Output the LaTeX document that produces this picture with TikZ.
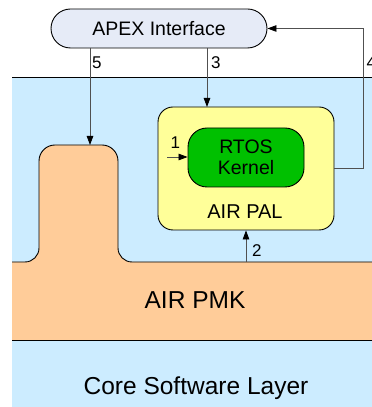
\documentclass[tikz,border=0pt]{standalone}
\usepackage{fontspec}
\setmainfont{Liberation Sans}
\usetikzlibrary{arrows.meta}
\definecolor{layerblue}{RGB}{204,236,255}
\definecolor{pmkpeach}{RGB}{255,204,153}
\definecolor{palyellow}{RGB}{255,255,153}
\definecolor{kernelgreen}{RGB}{0,192,0}
\definecolor{apexfill}{RGB}{230,235,247}
\definecolor{wire}{RGB}{80,80,80}
\tikzset{
  box/.style={draw=black, line width=0.9pt, inner sep=0pt},
  flow/.style={draw=wire, line width=0.8pt, -{Triangle[length=9pt,width=6.5pt,color=black]}},
  num/.style={font=\fontsize{17}{20}\selectfont, inner sep=0pt, anchor=west},
}
\begin{document}
\begin{tikzpicture}[x=1pt,y=1pt]
\useasboundingbox (0,0) rectangle (372,407);

% core software layer background
\fill[layerblue] (12,0) rectangle (372,330);
\draw[black, line width=0.9pt] (12,330) -- (372,330);
\node[font=\fontsize{24.5}{28}\selectfont] (core) at (196,19) {Core Software Layer};

% AIR PMK with its raised part
\fill[pmkpeach] (12,67) -- (12,145) -- (25,145)
  arc[start angle=-90, end angle=0, radius=14pt] -- (39,246)
  arc[start angle=180, end angle=90, radius=16pt] -- (102,262)
  arc[start angle=90, end angle=0, radius=16pt] -- (118,159)
  arc[start angle=180, end angle=270, radius=14pt] -- (372,145) -- (372,67) -- cycle;
\draw[black, line width=0.9pt] (12,145) -- (25,145)
  arc[start angle=-90, end angle=0, radius=14pt] -- (39,246)
  arc[start angle=180, end angle=90, radius=16pt] -- (102,262)
  arc[start angle=90, end angle=0, radius=16pt] -- (118,159)
  arc[start angle=180, end angle=270, radius=14pt] -- (372,145);
\draw[black, line width=0.9pt] (12,67) -- (372,67);
\node[font=\fontsize{24.5}{28}\selectfont] (pmk) at (195,107) {AIR PMK};
\coordinate (bumptop) at (90,262);
\coordinate (pmktop) at (246,145);

% APEX interface
\node[box, fill=apexfill, rounded corners=19.5pt, minimum width=216pt, minimum height=39pt,
      font=\fontsize{19.5}{23}\selectfont] (apex) at (159,378.5) {APEX Interface};

% AIR PAL containing the RTOS kernel
\node[box, fill=palyellow, rounded corners=15pt, minimum width=176pt, minimum height=123pt] (pal) at (246,238.5) {};
\node[font=\fontsize{20}{23}\selectfont] (pallabel) at (245,195) {AIR PAL};
\node[box, fill=kernelgreen, rounded corners=19pt, minimum width=116pt, minimum height=59pt,
      align=center, font=\fontsize{19.5}{21}\selectfont] (rtos) at (246,249.5) {RTOS\\Kernel};

% numbered flows
\coordinate (in1) at (167,250);
\draw[flow] (in1) -- (rtos.west |- in1);
\node[num] (n1) at (170.5,264) {1};

\draw[flow] (pmktop) -- (pal.south);
\node[num] (n2) at (252,156) {2};

\coordinate (in3) at (207,300);
\draw[flow] (apex.south -| in3) -- (in3);
\node[num] (n3) at (211,344) {3};

\coordinate (ret) at (363,239);
\draw[flow] (pal.east |- ret) -- (ret) |- (apex.east);
\node[num] (n4) at (366.5,344) {4};

\draw[flow] (apex.south -| bumptop) -- (bumptop);
\node[num] (n5) at (92,344) {5};
\end{tikzpicture}
\end{document}
